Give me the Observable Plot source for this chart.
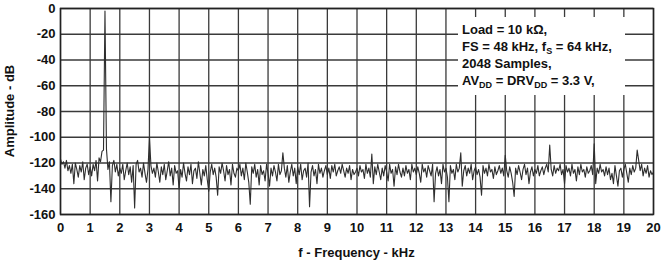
<!DOCTYPE html>
<html>
<head>
<meta charset="utf-8">
<script src="https://cdn.jsdelivr.net/npm/d3@7"></script>
<script src="https://cdn.jsdelivr.net/npm/@observablehq/plot@0.6"></script>
<style>
  html, body { margin: 0; padding: 0; background: #fff; }
  #wrap { position: relative; width: 665px; height: 260px; font-family: "Liberation Sans", Arial, sans-serif; }
  #note { position: absolute; left: 458px; top: 17px; width: 167px; height: 78px; background: #fff;
          font-weight: bold; font-size: 13px; line-height: 17px; color: #111; padding: 4px 0 0 4px; box-sizing: border-box; }
  #note sub { font-size: 9px; vertical-align: -3px; line-height: 0; }
</style>
</head>
<body>
<div id="wrap"></div>
<script>
const fStep = 0.05; // kHz per sample
const amplitude = [
  -117,-121,-119,-124,-118,-126,-122,-128,-121,-136,-120,-125,-131,-122,-127,-119,-133,-124,-121,-129,
  -123,-130,-121,-126,-118,-134,-116,-119,-111,-110,  -2,-109,-125,-119,-150,-122,-118,-127,-121,-130,
  -124,-128,-121,-133,-126,-120,-129,-123,-135,-122,-155,-121,-118,-127,-124,-131,-120,-128,-135,-125,
  -100,-122,-128,-124,-131,-120,-127,-135,-123,-129,-121,-133,-126,-119,-130,-124,-137,-122,-128,-126,
  -140,-125,-131,-120,-128,-134,-123,-129,-121,-136,-126,-124,-132,-119,-128,-137,-125,-130,-122,-133,
  -142,-127,-121,-129,-124,-131,-145,-123,-128,-120,-126,-134,-122,-129,-125,-137,-121,-128,-131,-124,
  -126,-121,-130,-124,-133,-120,-127,-135,-152,-123,-128,-121,-131,-125,-137,-122,-129,-126,-134,-121,
  -128,-138,-124,-130,-122,-127,-134,-121,-129,-126,-112,-124,-131,-122,-135,-127,-121,-130,-124,-136,
  -123,-129,-121,-133,-126,-124,-131,-120,-154,-127,-122,-130,-125,-136,-121,-128,-124,-131,-126,-122,
  -129,-124,-132,-122,-127,-121,-130,-126,-123,-128,-121,-126,-131,-124,-128,-122,-133,-125,-129,-127,
  -124,-130,-122,-127,-125,-132,-121,-128,-124,-131,-113,-136,-123,-129,-121,-127,-133,-124,-130,-122,
  -127,-134,-121,-128,-125,-138,-123,-129,-121,-127,-131,-124,-130,-122,-128,-125,-133,-121,-127,-124,
  -129,-123,-128,-135,-121,-127,-124,-131,-122,-126,-130,-121,-150,-128,-123,-130,-125,-136,-121,-127,
  -124,-131,-150,-122,-128,-125,-133,-121,-127,-124,-112,-138,-126,-122,-130,-124,-128,-121,-133,-126,
  -123,-129,-125,-131,-145,-122,-128,-124,-130,-121,-127,-125,-132,-123,-129,-126,-122,-128,-124,-130,
  -114,-126,-131,-123,-128,-135,-146,-124,-129,-122,-127,-133,-125,-121,-129,-124,-136,-127,-123,-130,
  -125,-128,-122,-130,-126,-123,-129,-124,-121,-127,-106,-125,-130,-122,-128,-124,-126,-121,-129,-125,
  -136,-122,-127,-124,-130,-121,-128,-125,-134,-123,-129,-121,-127,-125,-131,-123,-128,-126,-122,-129,
  -105,-136,-124,-128,-121,-127,-125,-130,-123,-129,-124,-133,-128,-136,-122,-130,-138,-126,-124,-131,
  -125,-121,-128,-135,-124,-129,-122,-127,-124,-110,-118,-126,-121,-130,-124,-128,-122,-131,-126,-129,
  -127
];
const xTicks = d3.range(0, 21, 1);
const yTicks = [0, -20, -40, -60, -80, -100, -120, -140, -160];

const data = amplitude.map((a, i) => ({f: +(i * fStep).toFixed(2), a}));

const chart = Plot.plot({
  width: 665,
  height: 260,
  marginLeft: 60,
  marginRight: 12,
  marginTop: 8,
  marginBottom: 46,
  style: {fontFamily: "'Liberation Sans', Arial, sans-serif", fontSize: "13px", fontWeight: "bold", color: "#111", background: "#fff"},
  x: {domain: [0, 20], ticks: xTicks, tickSize: 0, tickPadding: 8, label: null},
  y: {domain: [-160, 0], ticks: yTicks, tickSize: 0, tickPadding: 5, label: null},
  marks: [
    Plot.gridX(xTicks, {stroke: "#3a3a3a", strokeOpacity: 1, strokeWidth: 1.3}),
    Plot.gridY(yTicks, {stroke: "#3a3a3a", strokeOpacity: 1, strokeWidth: 1.3}),
    Plot.line(data, {x: "f", y: "a", stroke: "#2e2e2e", strokeWidth: 1.1}),
    Plot.frame({stroke: "#222", strokeWidth: 1.5}),
    Plot.axisX({ticks: xTicks, tickSize: 0, tickPadding: 8, fontSize: 13, fontWeight: "bold", tickFormat: d => String(d)}),
    Plot.axisY({ticks: yTicks, tickSize: 0, tickPadding: 5, fontSize: 13, fontWeight: "bold", tickFormat: d => String(d)})
  ]
});

const wrap = document.getElementById("wrap");
wrap.appendChild(chart);

const svg = d3.select(chart);
svg.append("text")
  .attr("x", 60 + (665 - 72) / 2).attr("y", 257)
  .attr("text-anchor", "middle")
  .style("font-weight", "bold").style("font-size", "13px").style("fill", "#111")
  .text("f - Frequency - kHz");
svg.append("text")
  .attr("transform", `translate(14, ${8 + 206 / 2}) rotate(-90)`)
  .attr("text-anchor", "middle")
  .style("font-weight", "bold").style("font-size", "13px").style("fill", "#111")
  .text("Amplitude - dB");

const note = document.createElement("div");
note.id = "note";
note.innerHTML = "Load = 10 k\u03A9,<br>FS = 48 kHz, f<sub>S</sub> = 64 kHz,<br>2048 Samples,<br>AV<sub>DD</sub> = DRV<sub>DD</sub> = 3.3 V,";
wrap.appendChild(note);
</script>
</body>
</html>
